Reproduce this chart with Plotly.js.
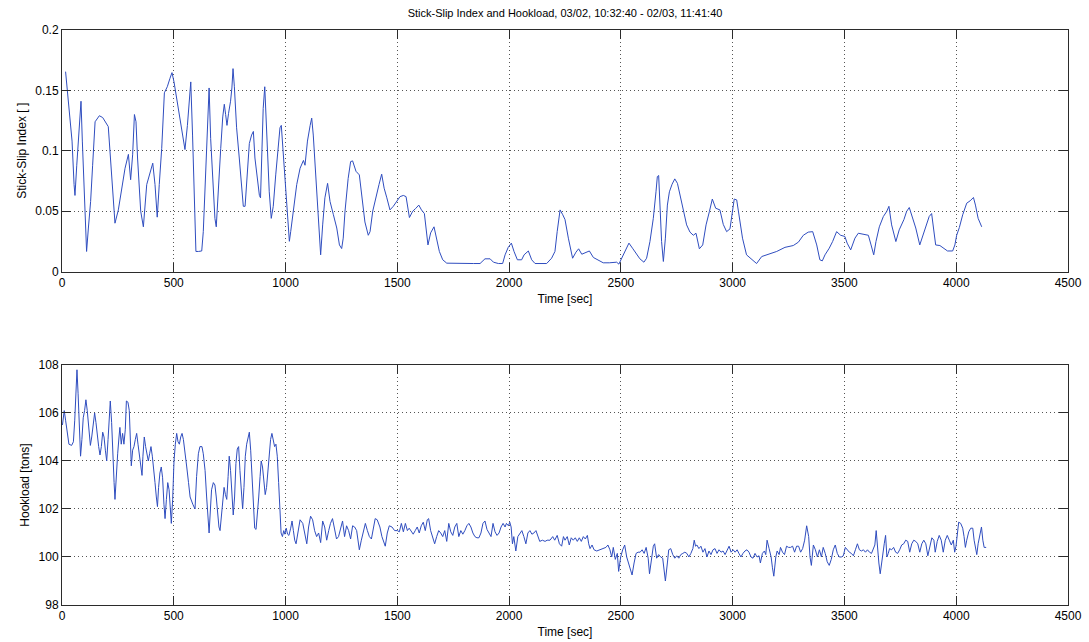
<!DOCTYPE html>
<html>
<head>
<meta charset="utf-8">
<script src="https://cdn.plot.ly/plotly-3.0.1.min.js"></script>
<style>html,body{margin:0;padding:0;background:#fff;}#chart{width:1089px;height:642px;}</style>
</head>
<body>
<div id="chart"></div>
<script>
const titleText = "Stick-Slip Index and Hookload, 03/02, 10:32:40 - 02/03, 11:41:40";
const xTickVals = [0, 500, 1000, 1500, 2000, 2500, 3000, 3500, 4000, 4500];
const ssiTickVals = [0, 0.05, 0.1, 0.15, 0.2];
const hookTickVals = [98, 100, 102, 104, 106, 108];

const ssiTime = [16,24,36,45,54,58,66,75,80,85,91,100,110,118,128,137,148,167,182,207,215,225,237,252,267,282,297,307,316,324,331,338,352,364,379,391,406,416,426,435,446,458,471,483,492,501,517,535,550,561,570,576,584,592,599,610,625,632,643,652,658,665,674,684,690,699,710,719,726,732,738,745,754,760,765,771,781,793,804,811,819,829,838,848,856,863,874,883,888,894,900,907,913,918,927,936,945,956,965,975,981,987,995,1005,1017,1023,1035,1050,1065,1080,1087,1098,1110,1117,1124,1136,1147,1157,1166,1176,1188,1199,1214,1229,1241,1251,1258,1266,1280,1291,1300,1315,1330,1341,1355,1370,1378,1390,1405,1418,1430,1441,1453,1467,1482,1497,1512,1527,1539,1554,1569,1581,1596,1608,1621,1637,1649,1664,1673,1688,1703,1721,1840,1870,1892,1915,1930,1952,1971,1982,1996,2010,2022,2037,2056,2067,2086,2101,2116,2168,2190,2205,2215,2228,2240,2250,2265,2284,2299,2311,2325,2339,2359,2377,2399,2421,2448,2466,2481,2491,2503,2518,2536,2552,2570,2585,2603,2615,2630,2645,2657,2663,2669,2675,2682,2690,2699,2708,2717,2729,2741,2753,2765,2780,2794,2809,2824,2836,2851,2866,2881,2896,2909,2924,2943,2958,2973,2988,3000,3007,3018,3030,3044,3062,3085,3107,3130,3160,3197,3234,3271,3294,3316,3338,3358,3376,3390,3401,3413,3432,3447,3465,3483,3502,3512,3528,3547,3562,3585,3607,3619,3631,3641,3656,3674,3689,3699,3711,3730,3745,3766,3778,3790,3800,3819,3837,3852,3867,3879,3890,3897,3908,3927,3945,3961,3984,3994,4002,4014,4029,4047,4062,4077,4086,4098,4114];
const ssiValue = [0.1655,0.149,0.121,0.108,0.072,0.063,0.088,0.116,0.135,0.141,0.108,0.061,0.0166,0.036,0.058,0.088,0.124,0.129,0.1275,0.12,0.099,0.072,0.040,0.051,0.069,0.0855,0.097,0.076,0.0966,0.130,0.124,0.094,0.050,0.037,0.072,0.080,0.0897,0.072,0.045,0.072,0.102,0.148,0.153,0.160,0.1647,0.157,0.139,0.121,0.101,0.121,0.146,0.157,0.113,0.061,0.0166,0.0166,0.017,0.033,0.0855,0.135,0.152,0.110,0.072,0.044,0.037,0.072,0.102,0.128,0.1385,0.130,0.121,0.131,0.141,0.152,0.168,0.153,0.119,0.094,0.066,0.054,0.054,0.080,0.106,0.113,0.116,0.094,0.0745,0.063,0.061,0.094,0.135,0.153,0.124,0.094,0.066,0.044,0.054,0.080,0.102,0.119,0.121,0.105,0.0855,0.055,0.025,0.033,0.052,0.072,0.0855,0.092,0.088,0.108,0.121,0.127,0.113,0.0745,0.0386,0.0138,0.0386,0.061,0.073,0.058,0.047,0.036,0.022,0.019,0.0276,0.050,0.077,0.091,0.0916,0.083,0.080,0.061,0.041,0.030,0.033,0.050,0.063,0.072,0.0806,0.069,0.061,0.051,0.054,0.0585,0.062,0.063,0.062,0.0447,0.050,0.052,0.055,0.051,0.048,0.022,0.032,0.037,0.030,0.0166,0.0097,0.0069,0.0066,0.0066,0.0105,0.0105,0.0077,0.0066,0.0066,0.0138,0.020,0.0235,0.0166,0.0097,0.0097,0.0138,0.017,0.0097,0.0066,0.0066,0.011,0.0166,0.033,0.051,0.047,0.043,0.0276,0.011,0.016,0.0188,0.0143,0.0157,0.017,0.0116,0.0094,0.0072,0.0072,0.0077,0.0077,0.0061,0.011,0.017,0.0235,0.0193,0.0143,0.0105,0.0077,0.011,0.0248,0.044,0.066,0.0786,0.0795,0.0497,0.0248,0.0083,0.0276,0.055,0.066,0.0723,0.0767,0.073,0.0635,0.051,0.0386,0.0326,0.030,0.0317,0.0188,0.022,0.0386,0.0497,0.060,0.0524,0.051,0.039,0.033,0.0353,0.0524,0.060,0.0593,0.044,0.0276,0.0138,0.0097,0.0066,0.0124,0.0143,0.0166,0.020,0.0215,0.0243,0.030,0.0326,0.033,0.022,0.0097,0.0088,0.0138,0.0193,0.0248,0.033,0.030,0.029,0.0235,0.0179,0.0276,0.0317,0.031,0.030,0.022,0.0138,0.0248,0.037,0.0455,0.0497,0.054,0.0386,0.0248,0.0345,0.043,0.0497,0.053,0.047,0.036,0.022,0.030,0.0386,0.0455,0.048,0.0386,0.022,0.0215,0.0193,0.017,0.017,0.022,0.030,0.0364,0.047,0.0566,0.0585,0.0613,0.055,0.044,0.037];

const hookTime = [2,6,10,16,24,31,43,51,57,63,67,72,78,83,89,95,101,107,113,119,127,133,139,146,152,158,164,170,176,182,188,194,200,206,212,216,222,228,233,237,243,249,255,259,265,271,277,283,288,295,301,306,310,316,322,328,334,340,346,352,358,362,368,374,380,386,392,398,404,410,416,422,427,432,438,444,450,456,461,467,473,479,485,489,495,501,507,513,519,525,531,537,543,550,558,566,573,585,595,602,610,617,626,632,640,647,653,658,664,669,677,684,690,696,702,707,713,719,725,731,737,743,748,754,760,766,772,778,784,790,796,802,808,814,820,826,832,838,844,850,856,862,868,874,880,886,891,897,903,909,915,921,927,933,939,945,951,957,963,969,975,980,986,992,997,1003,1009,1015,1023,1029,1035,1041,1047,1053,1059,1065,1077,1086,1095,1103,1112,1121,1130,1139,1148,1157,1166,1175,1184,1193,1201,1210,1219,1228,1237,1246,1255,1264,1273,1282,1291,1300,1309,1318,1330,1339,1348,1357,1366,1375,1384,1393,1401,1410,1422,1431,1440,1446,1455,1464,1476,1488,1500,1509,1518,1527,1536,1545,1553,1562,1571,1580,1589,1598,1607,1616,1625,1634,1640,1649,1658,1667,1676,1685,1694,1703,1712,1721,1730,1739,1748,1757,1766,1775,1784,1793,1802,1811,1820,1829,1838,1847,1856,1865,1874,1883,1892,1901,1910,1919,1928,1937,1946,1955,1964,1973,1982,1988,1997,2003,2009,2015,2021,2030,2039,2048,2057,2066,2075,2084,2093,2102,2111,2120,2129,2137,2149,2161,2170,2183,2195,2204,2215,2225,2235,2243,2250,2260,2269,2278,2287,2296,2305,2314,2323,2332,2341,2350,2356,2362,2371,2380,2392,2407,2421,2433,2442,2451,2459,2466,2475,2484,2490,2499,2508,2517,2526,2535,2544,2550,2559,2568,2577,2586,2595,2604,2613,2622,2628,2636,2645,2651,2660,2669,2678,2687,2693,2699,2708,2714,2723,2732,2741,2750,2759,2768,2777,2786,2795,2804,2813,2822,2828,2834,2840,2849,2858,2867,2876,2885,2894,2903,2912,2921,2930,2939,2948,2957,2966,2975,2984,2993,3002,3011,3020,3028,3037,3046,3055,3064,3073,3082,3091,3100,3109,3118,3124,3133,3142,3148,3154,3163,3172,3178,3184,3193,3199,3208,3214,3223,3232,3241,3250,3259,3268,3277,3286,3295,3304,3313,3322,3331,3340,3346,3352,3361,3370,3379,3388,3397,3405,3414,3423,3432,3441,3450,3459,3468,3477,3486,3495,3504,3513,3522,3531,3540,3549,3558,3567,3576,3585,3594,3603,3612,3621,3630,3636,3642,3648,3654,3660,3666,3672,3678,3684,3690,3696,3702,3711,3720,3729,3738,3747,3756,3765,3774,3783,3792,3801,3810,3819,3828,3837,3846,3855,3864,3873,3882,3891,3900,3906,3915,3924,3933,3942,3951,3960,3969,3978,3987,3993,3999,4005,4011,4020,4029,4035,4041,4047,4056,4065,4074,4080,4086,4092,4098,4107,4113,4119,4125,4134];
const hookValue = [105.5,106.0,106.1,105.7,105.15,104.7,104.65,104.8,105.7,106.8,107.8,106.8,104.9,104.2,104.9,105.8,106.1,106.55,106.1,105.3,104.65,105.0,105.6,106.0,105.6,105.0,104.6,104.25,104.6,105.2,105.0,104.45,104.0,104.9,105.7,106.5,105.6,103.75,103.1,102.4,103.5,104.3,105.0,105.4,104.7,105.15,104.7,105.3,106.5,106.45,106.1,104.3,103.8,104.45,104.6,104.9,105.15,104.7,104.2,103.75,103.4,104.2,105.0,104.6,104.2,104.0,104.3,104.6,104.2,103.75,103.1,102.5,102.1,102.9,103.5,103.75,103.3,102.2,101.6,102.4,103.1,102.8,102.0,101.4,102.4,104.0,104.7,105.15,104.8,104.7,105.0,105.15,104.9,104.45,103.75,103.1,102.5,102.2,102.0,103.35,104.3,104.6,104.6,104.3,103.6,102.5,101.7,101.0,102.0,102.8,103.1,103.0,102.5,101.8,101.25,101.1,101.8,102.5,102.9,102.6,102.4,103.35,104.2,103.6,102.5,101.75,102.5,103.9,104.5,104.6,103.6,102.5,102.0,102.9,104.2,104.7,104.9,105.2,104.45,103.2,102.0,101.2,101.15,101.7,102.5,103.35,104.0,103.75,103.1,102.6,102.9,103.6,104.45,104.9,105.15,104.8,104.6,104.7,104.2,103.1,101.8,101.0,100.85,101.1,100.95,101.2,100.95,100.9,101.2,101.5,101.1,100.7,100.55,100.85,101.25,101.55,101.4,101.0,100.55,101.25,101.7,101.55,101.1,100.85,101.0,100.6,101.5,101.25,100.7,101.1,101.4,101.6,101.1,100.75,100.85,101.25,101.5,100.85,101.3,101.1,100.75,101.3,101.25,101.1,100.3,100.7,101.1,101.4,101.1,100.85,100.75,101.25,101.6,101.55,101.25,100.85,100.6,100.45,101.0,101.3,101.25,101.1,101.1,101.05,101.4,101.05,101.4,101.1,101.2,101.05,100.95,101.1,101.25,101.0,101.3,101.45,101.1,101.55,101.6,101.1,100.85,100.55,100.85,101.1,101.0,100.85,101.1,100.65,101.4,101.05,100.9,101.25,101.4,100.85,101.1,100.95,101.1,101.3,101.4,101.25,101.0,100.85,100.8,100.8,101.0,101.4,101.5,101.15,101.0,100.85,101.4,101.05,100.9,101.0,101.25,101.4,101.25,101.4,101.3,101.45,101.25,100.55,100.85,100.25,100.85,101.0,101.1,100.85,100.55,101.0,101.1,100.95,101.0,101.1,100.85,100.65,100.7,100.65,100.7,100.7,100.85,100.7,100.9,100.55,100.45,100.85,100.7,100.85,100.5,100.8,100.7,100.8,100.65,100.8,100.65,100.85,100.75,100.9,100.55,100.35,100.5,100.3,100.25,100.3,100.35,100.4,100.5,100.3,100.0,100.4,99.9,100.15,99.4,100.0,100.3,100.5,100.0,99.75,99.45,99.25,99.75,100.15,100.2,100.2,100.3,100.15,100.4,99.95,99.3,99.9,100.45,100.55,99.95,100.1,100.0,99.95,99.45,99.0,99.75,100.3,100.35,100.1,99.95,100.05,99.95,100.1,100.15,100.2,100.15,100.0,100.15,100.35,100.7,100.45,100.5,100.35,100.45,100.2,100.35,100.0,100.25,100.1,100.3,100.35,100.15,100.3,100.2,100.25,100.1,100.25,100.45,100.2,100.3,100.2,100.3,100.15,100.0,100.15,100.25,100.3,100.2,100.0,99.95,100.15,100.0,100.05,99.75,100.15,100.25,100.1,100.7,100.35,100.0,99.55,99.2,100.0,100.25,100.1,100.4,100.2,100.1,100.45,100.4,100.4,100.45,100.2,100.45,100.45,100.2,100.35,100.7,101.3,100.85,100.0,99.65,100.5,100.3,100.0,100.3,100.0,100.4,100.15,99.8,99.65,99.9,100.3,100.5,100.15,100.0,100.0,100.05,100.4,100.3,100.2,100.15,100.05,100.3,100.55,100.3,100.25,100.3,100.2,100.3,100.2,100.15,100.4,100.5,101.1,100.3,99.75,99.3,99.75,100.3,100.55,100.9,100.0,100.15,100.35,100.3,100.4,100.2,100.15,100.3,100.5,100.55,100.7,100.65,100.2,100.55,100.7,100.65,100.55,100.2,100.55,100.7,100.55,100.05,100.5,100.8,100.7,100.2,100.65,100.9,100.7,100.2,100.7,100.9,100.7,100.5,100.7,100.2,100.45,100.85,101.45,101.4,101.2,100.85,100.4,100.7,101.05,101.2,101.2,100.7,100.3,100.1,100.55,101.0,101.25,100.7,100.4,100.4];

const lineColor = "#2f4dbf";
const axisColor = "#2b2b2b";
const baseFont = {family: "Liberation Sans, Arial, sans-serif", size: 12, color: "#000"};

function xAxis(anchor) {
  return {
    anchor: anchor,
    range: [0, 4500],
    tickmode: "array",
    tickvals: xTickVals,
    ticktext: xTickVals.map(String),
    ticks: "inside",
    ticklen: 9,
    tickcolor: axisColor,
    showline: true,
    linecolor: axisColor,
    linewidth: 1,
    mirror: "ticks",
    showgrid: true,
    gridcolor: "#555",
    griddash: "1px,3px",
    gridwidth: 1,
    zeroline: false,
    tickfont: baseFont,
    title: {text: "Time [sec]", font: baseFont, standoff: 5},
    automargin: false
  };
}

function yAxis(anchor, domain, range, ticks, label) {
  return {
    anchor: anchor,
    domain: domain,
    range: range,
    tickmode: "array",
    tickvals: ticks,
    ticktext: ticks.map(String),
    ticks: "inside",
    ticklen: 9,
    tickcolor: axisColor,
    showline: true,
    linecolor: axisColor,
    linewidth: 1,
    mirror: "ticks",
    showgrid: true,
    gridcolor: "#555",
    griddash: "1px,3px",
    gridwidth: 1,
    zeroline: false,
    tickfont: baseFont,
    title: {text: label, font: baseFont, standoff: 6},
    automargin: false
  };
}

const data = [
  {x: ssiTime, y: ssiValue, type: "scatter", mode: "lines", line: {color: lineColor, width: 1}, xaxis: "x", yaxis: "y", hoverinfo: "skip"},
  {x: hookTime, y: hookValue, type: "scatter", mode: "lines", line: {color: lineColor, width: 1}, xaxis: "x2", yaxis: "y2", hoverinfo: "skip"}
];

const layout = {
  width: 1089,
  height: 642,
  paper_bgcolor: "#fff",
  plot_bgcolor: "#fff",
  showlegend: false,
  margin: {l: 62, r: 21, t: 30, b: 37},
  title: {text: titleText, font: {family: "Liberation Sans, Arial, sans-serif", size: 11, color: "#000"}, x: 0.5, xref: "paper", y: 1 - 13/642, yref: "container", yanchor: "middle"},
  xaxis: xAxis("y"),
  yaxis: yAxis("x", [0.58, 1], [0, 0.2], ssiTickVals, "Stick-Slip Index [ ]"),
  xaxis2: xAxis("y2"),
  yaxis2: yAxis("x2", [0, 0.4174], [98, 108], hookTickVals, "Hookload [tons]")
};

Plotly.newPlot("chart", data, layout, {displayModeBar: false, staticPlot: true});
</script>
</body>
</html>
